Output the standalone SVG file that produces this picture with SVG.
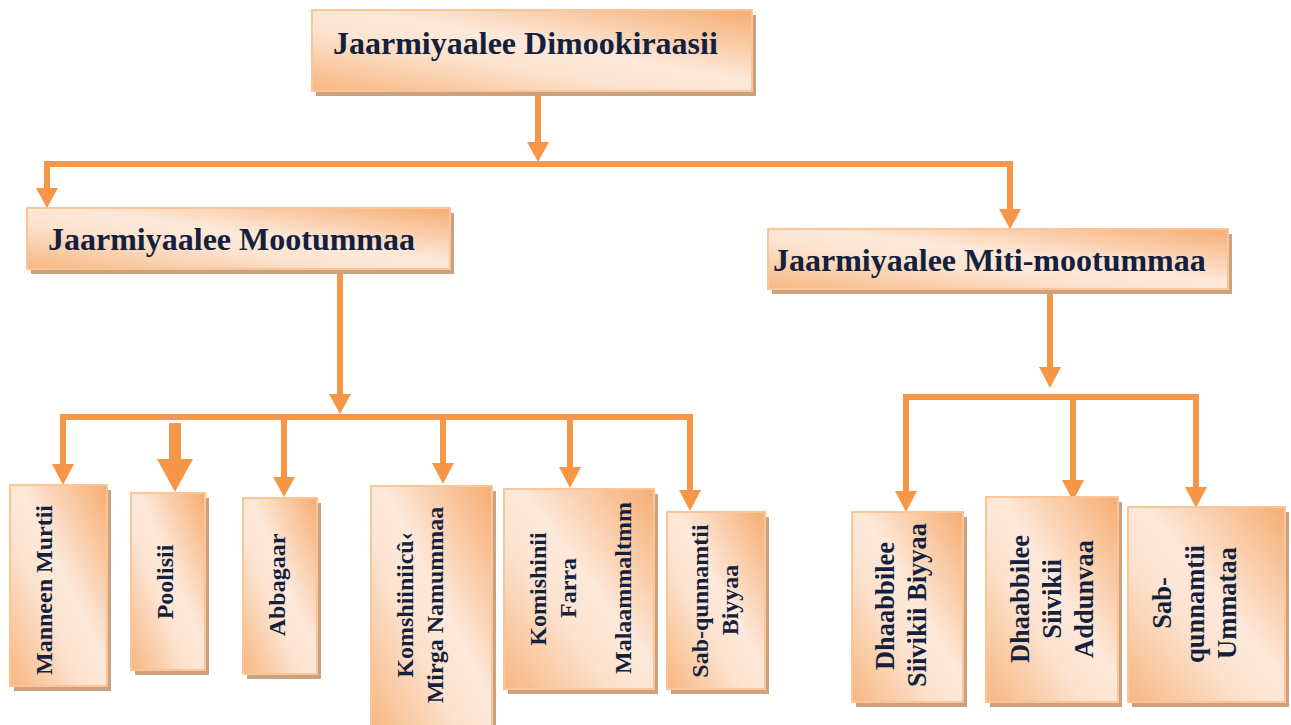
<svg xmlns="http://www.w3.org/2000/svg" width="1291" height="725" viewBox="0 0 1291 725">
<style>
.shadow{fill:#caa280}
.box{fill:url(#g);stroke:#fbc597;stroke-width:2}
.t{font-family:"Liberation Serif","Times New Roman",serif;font-weight:bold;fill:#14213d}
.h{font-size:32px}
.s{font-size:24px}
.m{font-size:26.5px}
.c{fill:none;stroke:#f79646;stroke-width:6;stroke-linejoin:miter;stroke-linecap:butt}
.ah{fill:#f79646}
</style>
<defs>
<linearGradient id="g" x1="1" y1="0" x2="0" y2="1">
<stop offset="0" stop-color="#f6ad72"/>
<stop offset="0.45" stop-color="#fde9da"/>
<stop offset="0.62" stop-color="#fce3cf"/>
<stop offset="1" stop-color="#f7b680"/>
</linearGradient>
</defs>
<rect width="1291" height="725" fill="#ffffff"/>

<g id="connectors">
<path class="c" d="M538 92 V145"/>
<polygon class="ah" points="527,142 549,142 538,162"/>
<path class="c" d="M47 190 V164 H1010 V212"/>
<polygon class="ah" points="36,188 58,188 47,208"/>
<polygon class="ah" points="999,209 1021,209 1010,229"/>

<path class="c" d="M340 272 V397"/>
<polygon class="ah" points="329,394 351,394 340,414"/>
<path class="c" d="M63 467 V417 H690 V492"/>
<polygon class="ah" points="52,464 74,464 63,485"/>
<rect class="ah" x="169" y="423" width="12" height="38"/>
<polygon class="ah" points="157,459 193,459 175,492"/>
<path class="c" d="M284 417 V480"/>
<polygon class="ah" points="273,477 295,477 284,497"/>
<path class="c" d="M443 417 V466"/>
<polygon class="ah" points="432,463 454,463 443,484"/>
<path class="c" d="M570 417 V470"/>
<polygon class="ah" points="559,467 581,467 570,488"/>
<polygon class="ah" points="679,490 701,490 690,511"/>

<path class="c" d="M1050 291 V370"/>
<polygon class="ah" points="1039,367 1061,367 1050,388"/>
<path class="c" d="M906 494 V397 H1196 V490"/>
<polygon class="ah" points="895,491 917,491 906,512"/>
<polygon class="ah" points="1185,487 1207,487 1196,508"/>
<path class="c" d="M1073 397 V483"/>
<polygon class="ah" points="1062,480 1084,480 1073,501"/>
</g>

<g id="n-dimookiraasii">
<rect class="shadow" x="316" y="15" width="440" height="81"/>
<rect class="box" x="312" y="10" width="440" height="81"/>
<text class="t h" x="333" y="54">Jaarmiyaalee Dimookiraasii</text>
</g>

<g id="n-mootummaa">
<rect class="shadow" x="31" y="213" width="423" height="61"/>
<rect class="box" x="27" y="208" width="423" height="61"/>
<text class="t h" x="48" y="250">Jaarmiyaalee Mootummaa</text>
</g>

<g id="n-miti-mootummaa">
<rect class="shadow" x="772" y="234" width="460" height="60"/>
<rect class="box" x="768" y="229" width="460" height="60"/>
<text class="t h" x="773" y="271">Jaarmiyaalee Miti-mootummaa</text>
</g>

<g id="n-manneen-murtii">
<rect class="shadow" x="14" y="490" width="97" height="201"/>
<rect class="box" x="10" y="485" width="97" height="201"/>
<text class="t s" text-anchor="middle" transform="translate(52 590) rotate(-90)">Manneen Murtii</text>
</g>

<g id="n-poolisii">
<rect class="shadow" x="135" y="498" width="74" height="177"/>
<rect class="box" x="131" y="493" width="74" height="177"/>
<text class="t s" text-anchor="middle" transform="translate(173 582) rotate(-90)">Poolisii</text>
</g>

<g id="n-abbagaar">
<rect class="shadow" x="247" y="503" width="74" height="176"/>
<rect class="box" x="243" y="498" width="74" height="176"/>
<text class="t s" text-anchor="middle" transform="translate(285 585) rotate(-90)">Abbagaar</text>
</g>

<g id="n-komshiin-mirga">
<rect class="shadow" x="375" y="491" width="121" height="245"/>
<rect class="box" x="371" y="486" width="121" height="245"/>
<text class="t s" text-anchor="middle" transform="translate(413 605) rotate(-90)">Komshiiniicû‹</text>
<text class="t s" text-anchor="middle" transform="translate(443 605) rotate(-90)">Mirga Namummaa</text>
</g>

<g id="n-komishinii-farra">
<rect class="shadow" x="508" y="494" width="150" height="200"/>
<rect class="box" x="504" y="489" width="150" height="200"/>
<text class="t s" text-anchor="middle" transform="translate(546 589) rotate(-90)">Komishinii</text>
<text class="t s" text-anchor="middle" transform="translate(576 588) rotate(-90)">Farra</text>
<text class="t s" text-anchor="middle" transform="translate(631 588) rotate(-90)">Malaammaltmm</text>
</g>

<g id="n-sab-biyyaa">
<rect class="shadow" x="671" y="517" width="98" height="177"/>
<rect class="box" x="667" y="512" width="98" height="177"/>
<text class="t s" text-anchor="middle" transform="translate(708 601) rotate(-90)">Sab-qunnamtii</text>
<text class="t s" text-anchor="middle" transform="translate(738 600) rotate(-90)">Biyyaa</text>
</g>

<g id="n-siivikii-biyyaa">
<rect class="shadow" x="856" y="517" width="111" height="190"/>
<rect class="box" x="852" y="512" width="111" height="190"/>
<text class="t m" text-anchor="middle" transform="translate(894 606) rotate(-90)">Dhaabbilee</text>
<text class="t m" text-anchor="middle" transform="translate(926 605) rotate(-90)">Siivikii Biyyaa</text>
</g>

<g id="n-siivikii-addunyaa">
<rect class="shadow" x="990" y="502" width="132" height="205"/>
<rect class="box" x="986" y="497" width="132" height="205"/>
<text class="t m" text-anchor="middle" transform="translate(1029 599) rotate(-90)">Dhaabbilee</text>
<text class="t m" text-anchor="middle" transform="translate(1061 599) rotate(-90)">Siivikii</text>
<text class="t m" text-anchor="middle" transform="translate(1093 599) rotate(-90)">Addunvaa</text>
</g>

<g id="n-sab-ummataa">
<rect class="shadow" x="1132" y="512" width="157" height="195"/>
<rect class="box" x="1128" y="507" width="157" height="195"/>
<text class="t m" text-anchor="middle" transform="translate(1171 603) rotate(-90)">Sab-</text>
<text class="t m" text-anchor="middle" transform="translate(1204 604) rotate(-90)">qunnamtii</text>
<text class="t m" text-anchor="middle" transform="translate(1236 603) rotate(-90)">Ummataa</text>
</g>
</svg>
